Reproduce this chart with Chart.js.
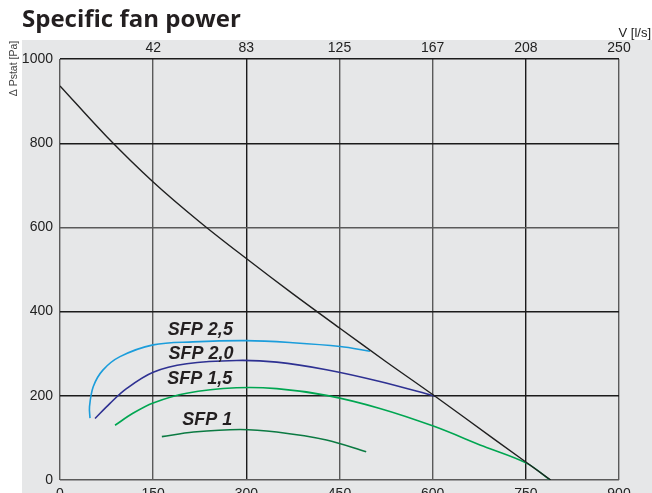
<!DOCTYPE html>
<html>
<head>
<meta charset="utf-8">
<title>Specific fan power</title>
<script src="https://cdn.jsdelivr.net/npm/chart.js@4/dist/chart.umd.min.js"></script>
<style>
  html, body { margin: 0; padding: 0; background: #ffffff; }
  canvas { display: block; }
</style>
</head>
<body>
<canvas id="chart" width="652" height="493"></canvas>
<script>
// Air flow q [m³/h] on the bottom axis, static pressure Δ Pstat [Pa] on the left axis.
const flowTicksLs = [42, 83, 125, 167, 208, 250];   // top axis, V [l/s]

// Fan curve (maximum)
const fanFlow     = [0, 75, 150, 225, 300, 375, 450, 525, 600, 700, 790];
const fanPressure = [936, 816, 708, 613, 526, 442, 361, 281, 203, 96, 0];

// Specific fan power curves
const sfp25Flow     = [48.3, 47.5, 53.6, 69, 96.6, 150, 214, 300, 375, 451, 499];
const sfp25Pressure = [147, 174, 222, 261, 293, 321, 328, 331, 326, 317, 306];

const sfp20Flow     = [56.4, 80.5, 107, 150, 204, 284, 349, 429, 515, 604];
const sfp20Pressure = [146, 182, 217, 256, 276, 284, 280, 262, 234, 199];

const sfp15Flow     = [88.6, 118, 150, 204, 284, 349, 429, 515, 601, 682, 751, 789];
const sfp15Pressure = [130, 159, 183, 206, 219, 217, 201, 170, 128, 80, 40, 0];

const sfp10Flow     = [164, 215, 290, 349, 429, 493];
const sfp10Pressure = [103, 114, 120, 114, 95, 67];

const curveNames = ['SFP 2,5', 'SFP 2,0', 'SFP 1,5', 'SFP 1'];

const toPoints = (xs, ys) => xs.map((x, i) => ({ x, y: ys[i] }));

// Where each curve name is written, in axis units
const nameAnchors = [
  { text: curveNames[0], x: 226, y: 356 },
  { text: curveNames[1], x: 227, y: 300 },
  { text: curveNames[2], x: 225, y: 241 },
  { text: curveNames[3], x: 237, y: 143 }
];

const TICK_FONT = "'Liberation Sans', Arial, sans-serif";
const DARK = '#1b1b1b';
const GREY = '#5a5a5a';
const PANEL = '#e6e7e8';

const decorations = {
  id: 'decorations',
  beforeDraw(chart) {
    const ctx = chart.ctx;
    ctx.save();
    ctx.fillStyle = PANEL;
    ctx.fillRect(22, 40, chart.width - 22, chart.height - 40);
    ctx.restore();
  },
  afterDraw(chart) {
    const ctx = chart.ctx;
    const xs = chart.scales.x, ys = chart.scales.y;
    ctx.save();
    // heading
    ctx.fillStyle = '#231f20';
    ctx.font = "bold 24px 'Open Sans'";
    ctx.textAlign = 'left';
    ctx.textBaseline = 'alphabetic';
    ctx.fillText('Specific fan power', 22, 27);
    // unit of the top axis
    ctx.font = '13px ' + TICK_FONT;
    ctx.fillStyle = '#222';
    ctx.textAlign = 'right';
    ctx.fillText('V [l/s]', 651, 37);
    // y axis title
    ctx.save();
    ctx.translate(14.5, 68.5);
    ctx.rotate(-Math.PI / 2);
    ctx.font = '10.5px ' + TICK_FONT;
    ctx.fillStyle = '#444';
    ctx.textAlign = 'center';
    ctx.textBaseline = 'middle';
    ctx.fillText('\u0394 Pstat [Pa]', 0, 0);
    ctx.restore();
    // curve names
    ctx.font = 'italic bold 18px ' + TICK_FONT;
    ctx.fillStyle = '#231f20';
    ctx.textAlign = 'center';
    ctx.textBaseline = 'middle';
    nameAnchors.forEach(a => {
      ctx.fillText(a.text, xs.getPixelForValue(a.x), ys.getPixelForValue(a.y));
    });
    ctx.restore();
  }
};

const xGridColor = ctx => {
  const v = ctx.tick && ctx.tick.value;
  return (v === 300 || v === 750) ? DARK : GREY;
};
const yGridColor = ctx => {
  const v = ctx.tick && ctx.tick.value;
  return (v === 0 || v === 600) ? GREY : DARK;
};

const line = (data, color, width) => ({
  data,
  borderColor: color,
  borderWidth: width,
  pointRadius: 0,
  fill: false,
  tension: 0.35
});

const noEdgePadding = s => {
  s.paddingTop = 0; s.paddingBottom = 0; s.paddingLeft = 0; s.paddingRight = 0;
};

new Chart(document.getElementById('chart'), {
  type: 'line',
  data: {
    datasets: [
      line(toPoints(fanFlow, fanPressure), '#1f1f1f', 1.4),
      line(toPoints(sfp25Flow, sfp25Pressure), '#1b9ddb', 1.6),
      line(toPoints(sfp20Flow, sfp20Pressure), '#2e3192', 1.6),
      line(toPoints(sfp15Flow, sfp15Pressure), '#00a651', 1.6),
      line(toPoints(sfp10Flow, sfp10Pressure), '#0b7a42', 1.6)
    ]
  },
  options: {
    responsive: false,
    animation: false,
    layout: { padding: { left: 0, right: 33, top: 0, bottom: 0 } },
    plugins: { legend: { display: false }, tooltip: { enabled: false }, title: { display: false } },
    scales: {
      x: {
        type: 'linear', position: 'bottom', min: 0, max: 900,
        afterFit: s => { s.height = 13; noEdgePadding(s); },
        ticks: { stepSize: 150, maxRotation: 0, autoSkip: false, padding: 6,
                 color: '#222', font: { family: TICK_FONT, size: 14 },
                 callback: v => String(v) },
        grid: { color: xGridColor, lineWidth: 1.4, drawTicks: false },
        border: { display: false }
      },
      xTop: {
        type: 'linear', position: 'top', min: 0, max: 900,
        afterFit: s => { s.height = 59; noEdgePadding(s); },
        ticks: { stepSize: 150, maxRotation: 0, autoSkip: false, padding: 2,
                 color: '#222', font: { family: TICK_FONT, size: 14 },
                 callback: (v, i) => i === 0 ? '' : String(flowTicksLs[i - 1]) },
        grid: { display: false, drawTicks: false },
        border: { display: false }
      },
      y: {
        type: 'linear', min: 0, max: 1000,
        afterFit: s => { s.width = 60; noEdgePadding(s); },
        ticks: { stepSize: 200, padding: 7, color: '#222',
                 font: { family: TICK_FONT, size: 14 },
                 callback: v => String(v) },
        grid: { color: yGridColor, lineWidth: 1.4, drawTicks: false },
        border: { display: false }
      }
    }
  },
  plugins: [decorations]
});
</script>
</body>
</html>
